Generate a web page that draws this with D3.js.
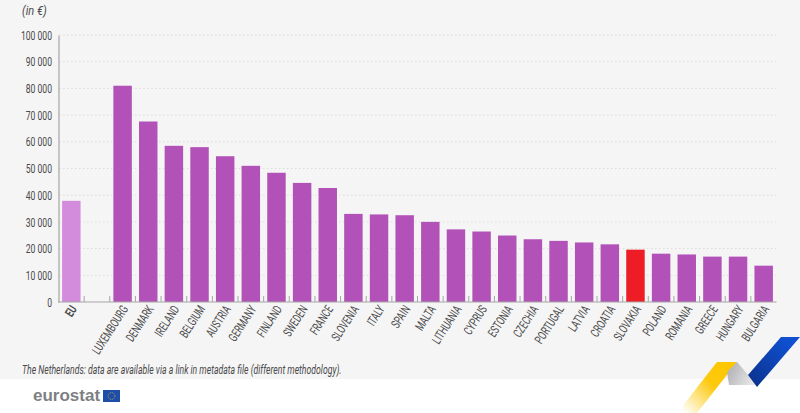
<!DOCTYPE html>
<html><head><meta charset="utf-8">
<script src="https://cdn.jsdelivr.net/npm/d3@7"></script>
<style>
html,body{margin:0;padding:0;background:#fff}
svg{display:block}
text{font-family:"Roboto",sans-serif;fill:#4a4a4a}
</style></head><body>
<svg id="c" width="800" height="413"></svg>
<script>
const categories=["EU","","LUXEMBOURG","DENMARK","IRELAND","BELGIUM","AUSTRIA","GERMANY","FINLAND","SWEDEN","FRANCE","SLOVENIA","ITALY","SPAIN","MALTA","LITHUANIA","CYPRUS","ESTONIA","CZECHIA","PORTUGAL","LATVIA","CROATIA","SLOVAKIA","POLAND","ROMANIA","GREECE","HUNGARY","BULGARIA"];
const values=[37900,null,81000,67600,58500,58000,54600,51000,48400,44600,42700,33000,32800,32500,30000,27200,26400,24900,23500,22900,22300,21600,19600,18100,17800,17000,17000,13600];
const yTicks=[0,10000,20000,30000,40000,50000,60000,70000,80000,90000,100000];
const unitLabel="(in €)";
const footnote="The Netherlands: data are available via a link in metadata file (different methodology).";
const svg=d3.select("#c");
const defs=svg.append("defs");
function grad(id,x1,y1,x2,y2,stops){const g=defs.append("linearGradient").attr("id",id).attr("gradientUnits","userSpaceOnUse").attr("x1",x1).attr("y1",y1).attr("x2",x2).attr("y2",y2);stops.forEach(s=>g.append("stop").attr("offset",s[0]).attr("stop-color",s[1]));}
grad("gy",682,410,730,365,[[0,"#fff"],[.6,"#fdc90c"],[1,"#fdc600"]]);
grad("gg",728,370,757,385,[[0,"#b4b4b6"],[1,"#f0f0f1"]]);
grad("gb",750,380,790,345,[[0,"#0c3490"],[1,"#0f4fd0"]]);
svg.append("rect").attr("width",800).attr("height",379).attr("fill","#f5f5f6");
const x=d3.scaleBand().domain(categories.map((d,i)=>i)).range([58.5,776.5]).paddingInner(0.28).paddingOuter(0.14);
const y=d3.scaleLinear().domain([0,100000]).range([302,35]);
svg.append("g").selectAll("line").data(yTicks.slice(1)).join("line")
 .attr("x1",59).attr("x2",776).attr("y1",d=>y(d)).attr("y2",d=>y(d))
 .attr("stroke","#dcdcdc").attr("stroke-width",1).attr("stroke-dasharray","1.5 2.5");
svg.append("g").selectAll("rect").data(values.map((v,i)=>({v,i})).filter(d=>d.v!=null)).join("rect")
 .attr("x",d=>x(d.i)).attr("width",x.bandwidth()).attr("y",d=>y(d.v)).attr("height",d=>y(0)-y(d.v))
 .attr("fill",d=>categories[d.i]==="EU"?"#d38bdb":categories[d.i]==="SLOVAKIA"?"#ee1c25":"#b252b8");
const yAxis=d3.axisLeft(y).tickValues(yTicks).tickSize(0).tickPadding(0)
 .tickFormat(d=>d3.format(",")(d).replace(/,/g," "));
const gy=svg.append("g").attr("transform","translate(58.5,0)").call(yAxis);
gy.select(".domain").attr("stroke","#a6a6a6").attr("stroke-width",1.2);
gy.selectAll(".tick text").attr("font-size",13).attr("x",0).attr("dy",null).attr("dominant-baseline","central")
 .attr("transform","translate(-6.5,0) scale(.66,1)").style("fill","#4a4a4a");
const ticks=svg.append("g");
ticks.selectAll("line").data(d3.range(1,28)).join("line")
 .attr("x1",i=>58.5+i*(718/28)).attr("x2",i=>58.5+i*(718/28)).attr("y1",296).attr("y2",302)
 .attr("stroke","#a6a6a6");
ticks.append("line").attr("class","base").attr("x1",58).attr("x2",776.5).attr("y1",302).attr("y2",302).attr("stroke","#a6a6a6").attr("stroke-width",1.2);
svg.append("g").selectAll("text").data(categories.map((c,i)=>({c,i})).filter(d=>d.c)).join("text")
 .attr("transform",d=>`translate(${x(d.i)+x.bandwidth()/2+6},309) rotate(-57) scale(.68,1)`)
 .attr("text-anchor","end").attr("font-size",12.5)
 .attr("font-weight",d=>d.c==="EU"?"bold":"normal").text(d=>d.c);
svg.append("text").attr("transform","translate(22,15) scale(.85,1)").attr("font-size",13).attr("font-style","italic").text(unitLabel);
svg.append("text").attr("transform","translate(22,374) scale(.695,1)").attr("font-size",12.5).attr("font-style","italic").text(footnote);
svg.append("text").attr("x",33).attr("y",401).attr("font-size",17).attr("font-weight","bold").style("font-family","'Liberation Sans',sans-serif").style("fill","#7d7f82").text("eurostat");
svg.append("rect").attr("x",103).attr("y",390).attr("width",17).attr("height",12).attr("fill","#1e4ea8");
svg.append("circle").attr("cx",111.5).attr("cy",396).attr("r",3.4).attr("fill","none").attr("stroke","#c9b84a").attr("stroke-width",.8).attr("stroke-dasharray","1 1");
svg.append("polygon").attr("points","677,413 717,362 737,362 697,413").attr("fill","url(#gy)");
svg.append("polygon").attr("points","737,362 757,385 729,385 727,372").attr("fill","url(#gg)");
svg.append("polygon").attr("points","748,375 781,337 800,337 757,387").attr("fill","url(#gb)");
</script>
</body></html>
